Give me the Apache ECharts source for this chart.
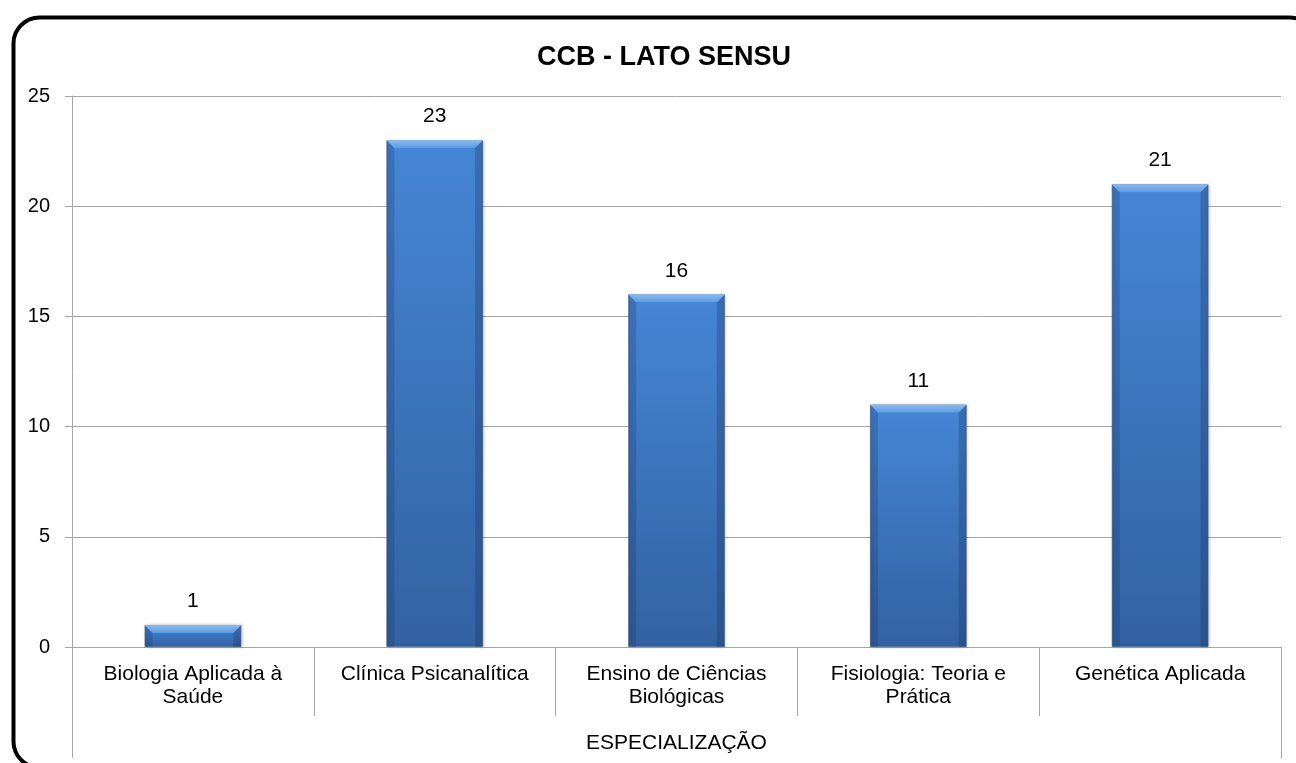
<!DOCTYPE html>
<html>
<head>
<meta charset="utf-8">
<script src="https://cdn.jsdelivr.net/npm/echarts@6/dist/echarts.min.js"></script>
<style>
  html, body { margin: 0; padding: 0; background: #fff; }
  #chart { width: 1296px; height: 763px; }
</style>
</head>
<body>
<div id="chart"></div>
<script>
var categories = ['Biologia Aplicada à\nSaúde', 'Clínica Psicanalítica', 'Ensino de Ciências\nBiológicas', 'Fisiologia: Teoria e\nPrática', 'Genética Aplicada']
var groupLabel = ['ESPECIALIZAÇÃO']
var values = [1, 23, 16, 11, 21]
var yTicks = { min: 0, max: 25, interval: 5 }

var font = 'Liberation Sans, Arial, sans-serif'
var gray = '#a6a6a6'

// bevel overlay on top of each bar, placed through the axes
function bevel(params, api) {
    var top = api.coord([api.value(0), api.value(1)])
    var base = api.coord([api.value(0), 0])
    var w = api.size([1, 0])[0] * 0.4
    var x0 = top[0] - w / 2, x1 = top[0] + w / 2
    var y0 = top[1], y1 = base[1]
    var b = Math.min(8, (y1 - y0) / 2)
    return {
        type: 'group',
        children: [
            { type: 'polygon', shape: { points: [[x0, y0], [x0 + b, y0 + b], [x0 + b, y1], [x0, y1]] },
              style: { fill: 'rgba(20,45,90,0.22)' } },
            { type: 'polygon', shape: { points: [[x1, y0], [x1 - b, y0 + b], [x1 - b, y1], [x1, y1]] },
              style: { fill: 'rgba(20,45,90,0.28)' } },
            { type: 'polygon', shape: { points: [[x0, y0], [x1, y0], [x1 - b, y0 + b], [x0 + b, y0 + b]] },
              style: { fill: new echarts.graphic.LinearGradient(0, 0, 0, 1, [
                  { offset: 0, color: '#86bcf4' }, { offset: 1, color: '#5b9be4' }]) } }
        ]
    }
}

var myChart = echarts.init(document.getElementById('chart'))
myChart.setOption({
    animation: false,
    title: {
        text: 'CCB - LATO SENSU',
        left: 532,
        top: 39,
        textStyle: { fontFamily: font, fontSize: 27, fontWeight: 'bold', color: '#000' }
    },
    graphic: [{
        type: 'rect',
        left: 11, top: 15,
        shape: { width: 1302, height: 750, r: 26 },
        style: { fill: 'none', stroke: '#000', lineWidth: 4 },
        z: 100
    }],
    grid: { left: 72, right: 15, top: 96, bottom: 116 },
    xAxis: [{
        type: 'category',
        data: categories,
        axisLine: { lineStyle: { color: gray, width: 1 } },
        axisTick: { show: true, length: 69, lineStyle: { color: gray } },
        axisLabel: { fontFamily: font, fontSize: 21, color: '#000', margin: 16, lineHeight: 23, interval: 0 }
    }, {
        type: 'category',
        position: 'bottom',
        data: groupLabel,
        axisLine: { show: false },
        axisTick: { show: true, length: 111, lineStyle: { color: gray } },
        axisLabel: { fontFamily: font, fontSize: 21, color: '#000', margin: 86 }
    }],
    yAxis: {
        type: 'value',
        min: yTicks.min, max: yTicks.max, interval: yTicks.interval,
        axisLine: { show: true, lineStyle: { color: gray } },
        axisTick: { show: true, length: 7, lineStyle: { color: gray } },
        axisLabel: { fontFamily: font, fontSize: 20, color: '#000', margin: 22 },
        splitLine: { lineStyle: { color: gray } }
    },
    series: [{
        type: 'bar',
        data: values,
        barWidth: '40%',
        itemStyle: {
            color: new echarts.graphic.LinearGradient(0, 0, 0, 1, [
                { offset: 0, color: '#4686d6' }, { offset: 1, color: '#3262a2' }]),
            borderColor: 'rgba(70,90,120,0.5)',
            borderWidth: 1,
            shadowColor: 'rgba(0,0,0,0.25)',
            shadowBlur: 3,
            shadowOffsetX: 1
        },
        label: {
            show: true, position: 'top', distance: 13,
            fontFamily: font, fontSize: 21, color: '#000'
        }
    }, {
        type: 'custom',
        data: values.map(function (v, i) { return [i, v] }),
        renderItem: bevel,
        silent: true,
        z: 3
    }]
})
</script>
</body>
</html>
